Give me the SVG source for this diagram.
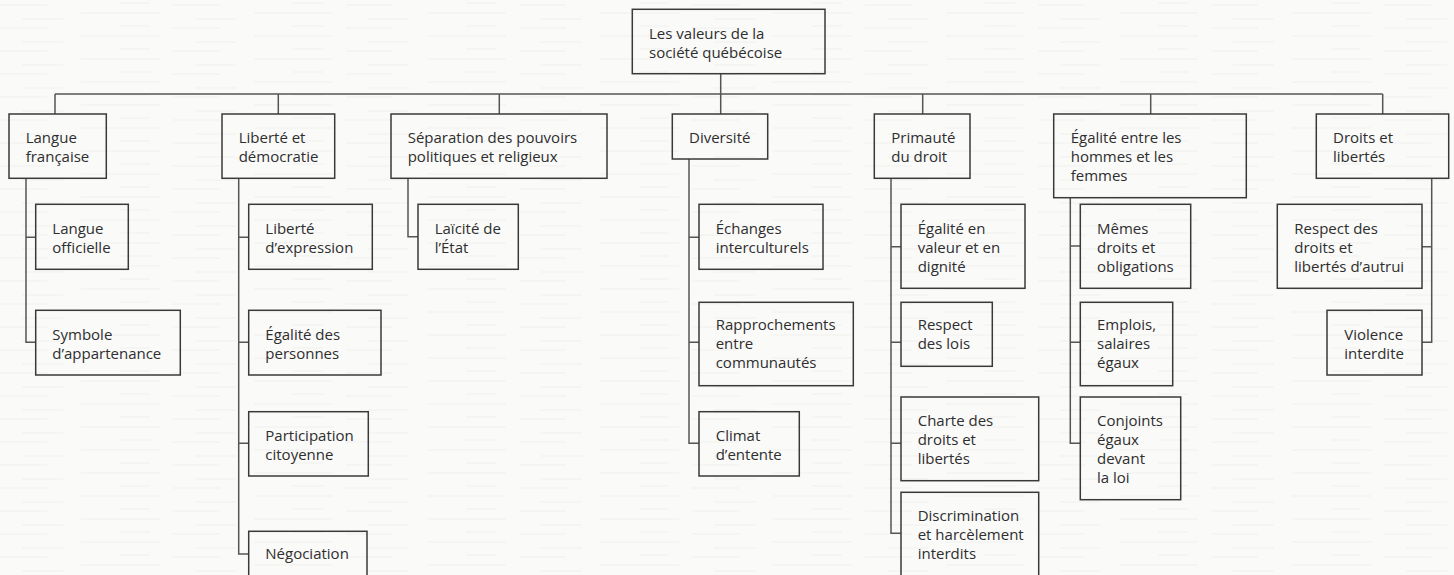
<svg xmlns="http://www.w3.org/2000/svg" width="1454" height="575" viewBox="0 0 1454 575">
<style>
.bx{fill:none;stroke:#3a3a3a;stroke-width:1.5}
.t{font-family:"Open Sans","Liberation Sans",sans-serif;font-size:15px;fill:#2e2e2e}
.c{fill:none;stroke:#555;stroke-width:1.5}
</style>
<defs>
<pattern id="paper" width="173" height="23" patternUnits="userSpaceOnUse">
<rect width="173" height="23" fill="#fafaf9"/>
<path d="M0 5 H47 M81 13 H160 M22 19 H63 M120 3 H150" stroke="#f1f1f0" stroke-width="1"/>
</pattern>
</defs>
<rect width="1454" height="575" fill="url(#paper)"/>
<g id="connectors">
<path class="c" d="M55 94 H1382.7 M720.7 74 V114 M55 94 V114 M278.3 94 V114 M499.3 94 V114 M922.7 94 V114 M1150.7 94 V114 M1382.7 94 V114"/>
<path class="c" d="M26 178.3 V342.3 H35.7 M26 237.3 H35.7"/>
<path class="c" d="M238.7 178.3 V554 H248.7 M238.7 237.3 H248.7 M238.7 342.3 H248.7 M238.7 443.3 H248.7"/>
<path class="c" d="M408 178.3 V236.7 H418"/>
<path class="c" d="M689 159 V443.3 H699 M689 237.3 H699 M689 342.3 H699"/>
<path class="c" d="M891 178.3 V533.3 H901 M891 246.7 H901 M891 342.3 H901 M891 443.3 H901"/>
<path class="c" d="M1070.3 197.7 V443.3 H1080.3 M1070.3 246 H1080.3 M1070.3 342.3 H1080.3"/>
<path class="c" d="M1431.7 178.3 V342.3 H1422 M1431.7 246.7 H1422"/>
</g>
<g id="root"><rect class="bx" x="632.3" y="9.3" width="192.7" height="64.4"/><text class="t" x="649" y="38.5">Les valeurs de la</text><text class="t" x="649" y="57.5">société québécoise</text></g>
<g id="n-langue"><rect class="bx" x="9" y="114" width="97.3" height="64.3"/><text class="t" x="25.7" y="142.7">Langue</text><text class="t" x="25.7" y="161.7">française</text></g>
<g id="n-liberte"><rect class="bx" x="222" y="114" width="112.7" height="64.3"/><text class="t" x="238.7" y="142.7">Liberté et</text><text class="t" x="238.7" y="161.7">démocratie</text></g>
<g id="n-separation"><rect class="bx" x="391" y="114" width="216" height="64.3"/><text class="t" x="407.7" y="142.7">Séparation des pouvoirs</text><text class="t" x="407.7" y="161.7">politiques et religieux</text></g>
<g id="n-diversite"><rect class="bx" x="672.3" y="114" width="95.4" height="45"/><text class="t" x="689" y="142.7">Diversité</text></g>
<g id="n-primaute"><rect class="bx" x="874.3" y="114" width="95.7" height="64.3"/><text class="t" x="891.3" y="142.7">Primauté</text><text class="t" x="891.3" y="161.7">du droit</text></g>
<g id="n-egalite-hf"><rect class="bx" x="1053.7" y="114" width="192.6" height="83.7"/><text class="t" x="1070.7" y="142.7">Égalité entre les</text><text class="t" x="1070.7" y="161.7">hommes et les</text><text class="t" x="1070.7" y="180.7">femmes</text></g>
<g id="n-droits"><rect class="bx" x="1316.3" y="114" width="132.4" height="64.3"/><text class="t" x="1333" y="142.7">Droits et</text><text class="t" x="1333" y="161.7">libertés</text></g>
<g id="n-langue-officielle"><rect class="bx" x="35.7" y="204.3" width="92.6" height="65"/><text class="t" x="52.3" y="234.3">Langue</text><text class="t" x="52.3" y="253.3">officielle</text></g>
<g id="n-symbole"><rect class="bx" x="35.7" y="310.3" width="144.6" height="64.7"/><text class="t" x="52.3" y="340">Symbole</text><text class="t" x="52.3" y="359">d’appartenance</text></g>
<g id="n-liberte-expr"><rect class="bx" x="248.7" y="204.3" width="123.6" height="65"/><text class="t" x="265.3" y="234.3">Liberté</text><text class="t" x="265.3" y="253.3">d’expression</text></g>
<g id="n-egalite-pers"><rect class="bx" x="248.7" y="310.3" width="132.3" height="64.7"/><text class="t" x="265.3" y="340">Égalité des</text><text class="t" x="265.3" y="359">personnes</text></g>
<g id="n-participation"><rect class="bx" x="248.7" y="411.7" width="119.6" height="64.3"/><text class="t" x="265.3" y="441">Participation</text><text class="t" x="265.3" y="460">citoyenne</text></g>
<g id="n-negociation"><rect class="bx" x="248.7" y="531.3" width="118.3" height="60"/><text class="t" x="265.3" y="559">Négociation</text></g>
<g id="n-laicite"><rect class="bx" x="418" y="204.3" width="100.3" height="65"/><text class="t" x="434.7" y="234.3">Laïcité de</text><text class="t" x="434.7" y="253.3">l’État</text></g>
<g id="n-echanges"><rect class="bx" x="699" y="204.3" width="124" height="65"/><text class="t" x="715.7" y="234.3">Échanges</text><text class="t" x="715.7" y="253.3">interculturels</text></g>
<g id="n-rapprochements"><rect class="bx" x="699" y="302.3" width="154.3" height="83.4"/><text class="t" x="715.7" y="330">Rapprochements</text><text class="t" x="715.7" y="349">entre</text><text class="t" x="715.7" y="368">communautés</text></g>
<g id="n-climat"><rect class="bx" x="699" y="411.7" width="100.3" height="64.3"/><text class="t" x="715.7" y="441">Climat</text><text class="t" x="715.7" y="460">d’entente</text></g>
<g id="n-egalite-valeur"><rect class="bx" x="901" y="204.3" width="124" height="84"/><text class="t" x="917.7" y="234.3">Égalité en</text><text class="t" x="917.7" y="253.3">valeur et en</text><text class="t" x="917.7" y="272.3">dignité</text></g>
<g id="n-respect-lois"><rect class="bx" x="901" y="302.3" width="91.3" height="64"/><text class="t" x="917.7" y="330">Respect</text><text class="t" x="917.7" y="349">des lois</text></g>
<g id="n-charte"><rect class="bx" x="901" y="397" width="137.7" height="83.7"/><text class="t" x="917.7" y="425.7">Charte des</text><text class="t" x="917.7" y="444.7">droits et</text><text class="t" x="917.7" y="463.7">libertés</text></g>
<g id="n-discrimination"><rect class="bx" x="901" y="492.3" width="137.7" height="95"/><text class="t" x="917.7" y="520.7">Discrimination</text><text class="t" x="917.7" y="539.7">et harcèlement</text><text class="t" x="917.7" y="558.7">interdits</text></g>
<g id="n-memes"><rect class="bx" x="1080.3" y="204.3" width="110.4" height="84"/><text class="t" x="1097" y="234.3">Mêmes</text><text class="t" x="1097" y="253.3">droits et</text><text class="t" x="1097" y="272.3">obligations</text></g>
<g id="n-emplois"><rect class="bx" x="1080.3" y="302.3" width="92.4" height="83.4"/><text class="t" x="1097" y="330">Emplois,</text><text class="t" x="1097" y="349">salaires</text><text class="t" x="1097" y="368">égaux</text></g>
<g id="n-conjoints"><rect class="bx" x="1080.3" y="397" width="100.4" height="102.7"/><text class="t" x="1097" y="425.7">Conjoints</text><text class="t" x="1097" y="444.7">égaux</text><text class="t" x="1097" y="463.7">devant</text><text class="t" x="1097" y="482.7">la loi</text></g>
<g id="n-respect-droits"><rect class="bx" x="1277.3" y="204.3" width="144.7" height="84"/><text class="t" x="1294.3" y="234.3">Respect des</text><text class="t" x="1294.3" y="253.3">droits et</text><text class="t" x="1294.3" y="272.3">libertés d’autrui</text></g>
<g id="n-violence"><rect class="bx" x="1327" y="310.3" width="95" height="64.7"/><text class="t" x="1344.3" y="340">Violence</text><text class="t" x="1344.3" y="359">interdite</text></g>
</svg>
